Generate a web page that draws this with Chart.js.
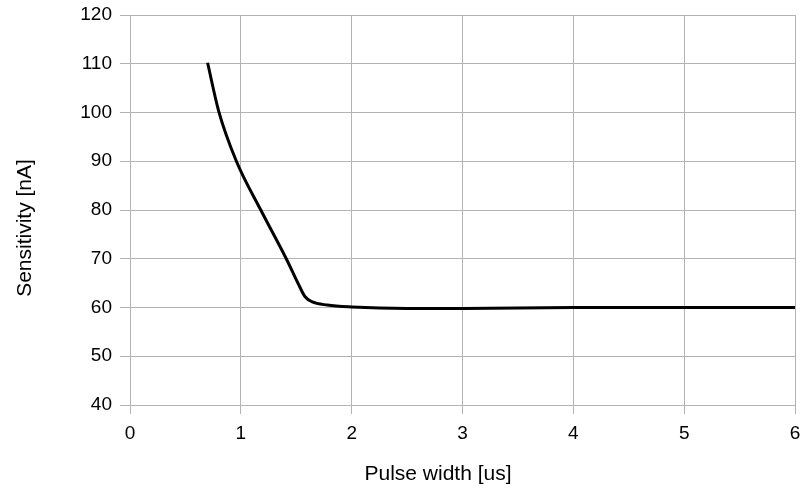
<!DOCTYPE html>
<html lang="en">
<head>
    <meta charset="UTF-8">
    <title>Sensitivity vs pulse width</title>
    <script src="https://cdn.jsdelivr.net/npm/chart.js"></script>
    <style>
        html, body { margin: 0; padding: 0; background: #fff; }
        #wrap { width: 801px; height: 490px; }
    </style>
</head>
<body>
    <div id="wrap"><canvas id="sensChart" width="801" height="490"></canvas></div>
    <script>
        // values
        const pulseWidth = [0.7, 0.8, 0.96, 1.18, 1.41, 1.53, 1.58, 1.64, 1.78, 2.0, 2.5, 3.0, 4.0, 5.0, 6.0];
        const sensitivity = [110.2, 100.3, 90.0, 80.0, 70.0, 64.3, 62.2, 61.2, 60.5, 60.1, 59.8, 59.8, 60.0, 60.0, 60.0];

        const xTitle = "Pulse width [us]";
        const yTitle = "Sensitivity [nA]";

        const gridColor = "#b3b3b3";
        const fontFamily = "'Liberation Sans', Arial, sans-serif";

        // axis titles drawn by hand so they sit where the original has them
        const axisTitles = {
            id: "axisTitles",
            afterDraw(chart) {
                const ctx = chart.ctx;
                ctx.save();
                ctx.fillStyle = "#000";
                ctx.font = "21px " + fontFamily;
                ctx.textAlign = "center";
                ctx.textBaseline = "middle";
                ctx.fillText(xTitle, 438, 474);
                ctx.translate(25, 228);
                ctx.rotate(-Math.PI / 2);
                ctx.fillText(yTitle, 0, 0);
                ctx.restore();
            }
        };

        new Chart(document.getElementById("sensChart"), {
            type: "line",
            data: {
                datasets: [{
                    data: pulseWidth.map((x, i) => ({ x: x, y: sensitivity[i] })),
                    borderColor: "#000",
                    borderWidth: 3,
                    pointRadius: 0,
                    fill: false,
                    cubicInterpolationMode: "monotone"
                }]
            },
            options: {
                responsive: false,
                animation: false,
                layout: { padding: { top: 15, right: 6, left: 0, bottom: 0 } },
                plugins: { legend: { display: false }, tooltip: { enabled: false } },
                scales: {
                    x: {
                        type: "linear",
                        min: 0, max: 6,
                        ticks: { stepSize: 1, color: "#000", padding: 8, font: { family: fontFamily, size: 19 } },
                        grid: { color: gridColor, tickLength: 9 },
                        border: { display: false },
                        afterFit(scale) {
                            scale.height = 85;
                            scale.paddingLeft = 0;
                            scale.paddingRight = 0;
                        }
                    },
                    y: {
                        min: 40, max: 120,
                        ticks: { stepSize: 10, color: "#000", padding: 8, font: { family: fontFamily, size: 19 } },
                        grid: { color: gridColor, tickLength: 10 },
                        border: { display: false },
                        afterFit(scale) {
                            scale.width = 130;
                            scale.paddingTop = 0;
                            scale.paddingBottom = 0;
                        }
                    }
                }
            },
            plugins: [axisTitles]
        });
    </script>
</body>
</html>
